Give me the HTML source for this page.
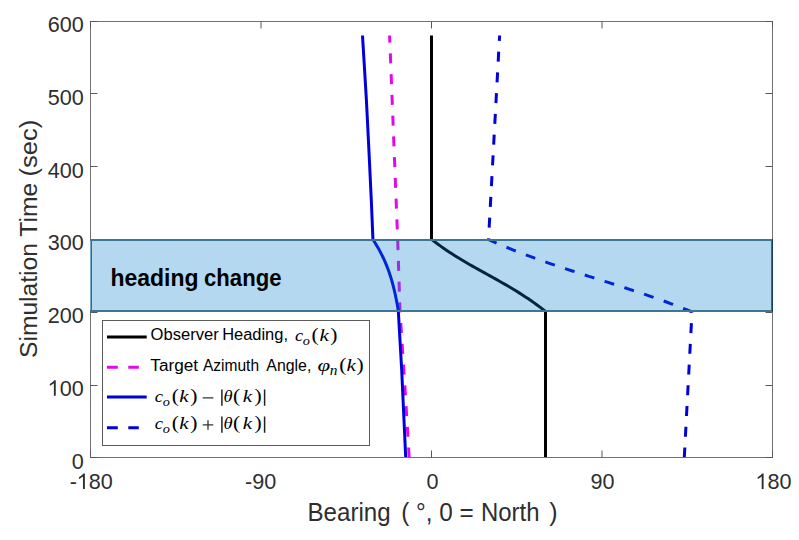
<!DOCTYPE html>
<html><head><meta charset="utf-8"><style>
html,body{margin:0;padding:0;background:#fff;overflow:hidden}
svg{display:block}

</style></head><body>
<svg width="799" height="540" viewBox="0 0 799 540">
<rect x="0" y="0" width="799" height="540" fill="#fff"/>
<path d="M545.50,457.50L545.50,311.43L542.58,309.13L539.65,306.90L536.73,304.73L533.81,302.62L530.88,300.57L527.96,298.57L525.04,296.63L522.12,294.73L519.19,292.88L516.27,291.06L513.35,289.28L510.42,287.54L507.50,285.82L504.58,284.13L501.65,282.45L498.73,280.80L495.81,279.16L492.88,277.53L489.96,275.91L487.04,274.29L484.12,272.67L481.19,271.05L478.27,269.42L475.35,267.78L472.42,266.12L469.50,264.45L466.58,262.75L463.65,261.03L460.73,259.28L457.81,257.49L454.88,255.67L451.96,253.81L449.04,251.90L446.12,249.95L443.19,247.94L440.27,245.88L437.35,243.76L434.42,241.58L431.50,239.34L431.50,35.50" fill="none" stroke="#000" stroke-width="3" stroke-linejoin="round"/>
<path d="M409.2,457.5L404.5,380L400,311L397.7,240L389.6,35.5" fill="none" stroke="rgb(228,8,232)" stroke-width="3" stroke-dasharray="10 10.77"/>
<path d="M405.70,457.50L401.70,370.00L399.40,330.00L398.33,311.00L397.92,308.53L397.50,306.07L397.06,303.60L396.60,301.14L396.12,298.67L395.62,296.21L395.09,293.74L394.53,291.28L393.95,288.81L393.33,286.34L392.68,283.88L391.99,281.41L391.27,278.95L390.51,276.48L389.70,274.02L388.85,271.55L387.96,269.09L387.02,266.62L386.03,264.16L384.99,261.69L383.89,259.22L382.74,256.76L381.53,254.29L380.26,251.83L378.93,249.36L377.53,246.90L376.07,244.43L374.54,241.97L372.94,239.50L371.30,200.00L369.10,154.00L366.40,100.00L362.50,35.50" fill="none" stroke="rgb(0,0,218)" stroke-width="3" stroke-linejoin="round"/>
<path d="M684.30,457.50L692.00,311.88L687.85,310.20L683.69,308.55L679.54,306.93L675.39,305.34L671.23,303.78L667.08,302.24L662.93,300.73L658.78,299.25L654.62,297.78L650.47,296.34L646.32,294.91L642.16,293.51L638.01,292.11L633.86,290.74L629.70,289.37L625.55,288.02L621.40,286.67L617.24,285.34L613.09,284.01L608.94,282.68L604.79,281.36L600.63,280.04L596.48,278.72L592.33,277.40L588.17,276.08L584.02,274.75L579.87,273.42L575.71,272.08L571.56,270.73L567.41,269.37L563.26,268.00L559.10,266.62L554.95,265.22L550.80,263.80L546.64,262.37L542.49,260.91L538.34,259.44L534.18,257.94L530.03,256.41L525.88,254.87L521.72,253.29L517.57,251.69L513.42,250.05L509.27,248.38L505.11,246.68L500.96,244.95L496.81,243.17L492.65,241.36L488.50,239.51L499.60,35.50" fill="none" stroke="rgb(0,0,218)" stroke-width="3" stroke-dasharray="10 10.77"/>
<rect x="90.5" y="21.5" width="682.0" height="436.0" fill="none" stroke="#707070" stroke-width="1"/>
<path d="M90.50,21.5v7M90.50,457.5v-7M261.00,21.5v7M431.50,21.5v7M431.50,457.5v-7M602.00,21.5v7M602.00,457.5v-7M772.50,21.5v7M772.50,457.5v-7M90.5,21.5h7M772.5,21.5h-7M90.5,93.5h7M772.5,93.5h-7M90.5,166.5h7M772.5,166.5h-7M90.5,239.5h7M772.5,239.5h-7M90.5,312.5h7M772.5,312.5h-7M90.5,385.5h7M772.5,385.5h-7M90.5,457.5h7M772.5,457.5h-7" stroke="#585858" stroke-width="1" fill="none"/>
<rect x="90" y="239" width="683" height="73" fill="rgb(2,125,205)" fill-opacity="0.3"/>
<path d="M90,240H773M90,311H773" stroke="rgb(60,117,150)" stroke-width="2" fill="none"/>
<path d="M91.5,241V310" stroke="rgb(45,110,150)" stroke-width="1" fill="none"/>
<path d="M90.5,241V310" stroke="rgb(120,168,200)" stroke-width="1" fill="none"/>
<path d="M771.5,241V310" stroke="rgb(50,110,145)" stroke-width="1" fill="none"/>
<path d="M772.5,239V312" stroke="rgb(25,62,88)" stroke-width="1" fill="none"/>
<text transform="translate(69.63,489.00) scale(0.96,1)" font-family="Liberation Sans" font-size="22.5" fill="#2e2e2e">-</text><path transform="translate(76.82,489.00) scale(0.010547,-0.010986)" d="M763,0L583,0L583,1147C530,1096 460,1045 375,995C290,945 225,913 200,900L200,1074C330,1135 420,1200 500,1270C570,1335 610,1380 630,1409L763,1409Z" fill="#2e2e2e"/><text transform="translate(88.83,489.00) scale(0.96,1)" font-family="Liberation Sans" font-size="22.5" fill="#2e2e2e">8</text><text transform="translate(100.84,489.00) scale(0.96,1)" font-family="Liberation Sans" font-size="22.5" fill="#2e2e2e">0</text>
<text transform="translate(245.08,489.00) scale(0.96,1)" font-family="Liberation Sans" font-size="22.5" fill="#2e2e2e">-</text><text transform="translate(252.28,489.00) scale(0.96,1)" font-family="Liberation Sans" font-size="22.5" fill="#2e2e2e">9</text><text transform="translate(264.29,489.00) scale(0.96,1)" font-family="Liberation Sans" font-size="22.5" fill="#2e2e2e">0</text>
<text transform="translate(426.49,489.00) scale(0.96,1)" font-family="Liberation Sans" font-size="22.5" fill="#2e2e2e">0</text>
<text transform="translate(590.58,489.00) scale(0.96,1)" font-family="Liberation Sans" font-size="22.5" fill="#2e2e2e">9</text><text transform="translate(602.59,489.00) scale(0.96,1)" font-family="Liberation Sans" font-size="22.5" fill="#2e2e2e">0</text>
<path transform="translate(755.55,489.00) scale(0.010547,-0.010986)" d="M763,0L583,0L583,1147C530,1096 460,1045 375,995C290,945 225,913 200,900L200,1074C330,1135 420,1200 500,1270C570,1335 610,1380 630,1409L763,1409Z" fill="#2e2e2e"/><text transform="translate(767.56,489.00) scale(0.96,1)" font-family="Liberation Sans" font-size="22.5" fill="#2e2e2e">8</text><text transform="translate(779.57,489.00) scale(0.96,1)" font-family="Liberation Sans" font-size="22.5" fill="#2e2e2e">0</text>
<text transform="translate(47.71,32.00) scale(0.96,1)" font-family="Liberation Sans" font-size="22.5" fill="#2e2e2e">6</text><text transform="translate(59.72,32.00) scale(0.96,1)" font-family="Liberation Sans" font-size="22.5" fill="#2e2e2e">0</text><text transform="translate(71.73,32.00) scale(0.96,1)" font-family="Liberation Sans" font-size="22.5" fill="#2e2e2e">0</text>
<text transform="translate(47.71,104.75) scale(0.96,1)" font-family="Liberation Sans" font-size="22.5" fill="#2e2e2e">5</text><text transform="translate(59.72,104.75) scale(0.96,1)" font-family="Liberation Sans" font-size="22.5" fill="#2e2e2e">0</text><text transform="translate(71.73,104.75) scale(0.96,1)" font-family="Liberation Sans" font-size="22.5" fill="#2e2e2e">0</text>
<text transform="translate(47.71,177.50) scale(0.96,1)" font-family="Liberation Sans" font-size="22.5" fill="#2e2e2e">4</text><text transform="translate(59.72,177.50) scale(0.96,1)" font-family="Liberation Sans" font-size="22.5" fill="#2e2e2e">0</text><text transform="translate(71.73,177.50) scale(0.96,1)" font-family="Liberation Sans" font-size="22.5" fill="#2e2e2e">0</text>
<text transform="translate(47.71,250.25) scale(0.96,1)" font-family="Liberation Sans" font-size="22.5" fill="#2e2e2e">3</text><text transform="translate(59.72,250.25) scale(0.96,1)" font-family="Liberation Sans" font-size="22.5" fill="#2e2e2e">0</text><text transform="translate(71.73,250.25) scale(0.96,1)" font-family="Liberation Sans" font-size="22.5" fill="#2e2e2e">0</text>
<text transform="translate(47.71,323.00) scale(0.96,1)" font-family="Liberation Sans" font-size="22.5" fill="#2e2e2e">2</text><text transform="translate(59.72,323.00) scale(0.96,1)" font-family="Liberation Sans" font-size="22.5" fill="#2e2e2e">0</text><text transform="translate(71.73,323.00) scale(0.96,1)" font-family="Liberation Sans" font-size="22.5" fill="#2e2e2e">0</text>
<path transform="translate(47.71,395.75) scale(0.010547,-0.010986)" d="M763,0L583,0L583,1147C530,1096 460,1045 375,995C290,945 225,913 200,900L200,1074C330,1135 420,1200 500,1270C570,1335 610,1380 630,1409L763,1409Z" fill="#2e2e2e"/><text transform="translate(59.72,395.75) scale(0.96,1)" font-family="Liberation Sans" font-size="22.5" fill="#2e2e2e">0</text><text transform="translate(71.73,395.75) scale(0.96,1)" font-family="Liberation Sans" font-size="22.5" fill="#2e2e2e">0</text>
<text transform="translate(71.73,468.50) scale(0.96,1)" font-family="Liberation Sans" font-size="22.5" fill="#2e2e2e">0</text>
<text transform="translate(36.9,356.9) rotate(-90)" x="-1.11" y="0" font-family="Liberation Sans" font-style="normal" font-weight="normal" font-size="24.6" fill="#2e2e2e" textLength="175.20" lengthAdjust="spacingAndGlyphs" >Simulation Time</text>
<text transform="translate(36.9,175.0) rotate(-90)" x="-1.59" y="0" font-family="Liberation Sans" font-style="normal" font-weight="normal" font-size="24.6" fill="#2e2e2e" textLength="56.87" lengthAdjust="spacingAndGlyphs" >(sec)</text>
<text x="307.52" y="521.20" font-family="Liberation Sans" font-style="normal" font-weight="normal" font-size="25" fill="#2e2e2e" textLength="83.13" lengthAdjust="spacingAndGlyphs" >Bearing</text>
<text x="401.19" y="521.20" font-family="Liberation Sans" font-style="normal" font-weight="normal" font-size="25" fill="#2e2e2e" textLength="72.50" lengthAdjust="spacingAndGlyphs" >( °, 0 =</text>
<text x="481.04" y="521.20" font-family="Liberation Sans" font-style="normal" font-weight="normal" font-size="25" fill="#2e2e2e" textLength="58.52" lengthAdjust="spacingAndGlyphs" >North</text>
<text x="549.15" y="521.20" font-family="Liberation Sans" font-style="normal" font-weight="normal" font-size="25" fill="#2e2e2e">)</text>
<text x="110.50" y="285.50" font-family="Liberation Sans" font-style="normal" font-weight="bold" font-size="24" fill="#000" textLength="88.04" lengthAdjust="spacingAndGlyphs" >heading</text>
<text x="204.04" y="285.50" font-family="Liberation Sans" font-style="normal" font-weight="bold" font-size="24" fill="#000" textLength="77.42" lengthAdjust="spacingAndGlyphs" >change</text>
<rect x="102.5" y="320.5" width="267" height="125" fill="#fff" stroke="#5c5c5c" stroke-width="1"/>
<path d="M107,337H146.7" stroke="#000" stroke-width="3"/>
<path d="M107,367.3H117.8M128.3,367.3H138.8" stroke="rgb(228,8,232)" stroke-width="3"/>
<path d="M107,397H146.7" stroke="rgb(0,0,218)" stroke-width="3"/>
<path d="M107,427.7H117.8M128.3,427.7H138.8" stroke="rgb(0,0,218)" stroke-width="3"/>
<text x="150.61" y="340.30" font-family="Liberation Sans" font-style="normal" font-weight="normal" font-size="16" fill="#000" textLength="68.16" lengthAdjust="spacingAndGlyphs" >Observer</text>
<text x="222.15" y="340.30" font-family="Liberation Sans" font-style="normal" font-weight="normal" font-size="16" fill="#000" textLength="65.83" lengthAdjust="spacingAndGlyphs" >Heading,</text>
<text x="150.33" y="371.00" font-family="Liberation Sans" font-style="normal" font-weight="normal" font-size="16" fill="#000" textLength="47.79" lengthAdjust="spacingAndGlyphs" >Target</text>
<text x="202.97" y="371.00" font-family="Liberation Sans" font-style="normal" font-weight="normal" font-size="16" fill="#000" textLength="56.04" lengthAdjust="spacingAndGlyphs" >Azimuth</text>
<text x="266.37" y="371.00" font-family="Liberation Sans" font-style="normal" font-weight="normal" font-size="16" fill="#000" textLength="44.96" lengthAdjust="spacingAndGlyphs" >Angle,</text>
<text transform="translate(295.03,341.00) scale(1.05,1)" font-family="Liberation Serif" font-style="italic" font-weight="normal" font-size="17.6" fill="#000">c</text>
<text transform="translate(302.67,344.60) scale(1.1,1)" font-family="Liberation Serif" font-style="italic" font-weight="normal" font-size="13" fill="#000">o</text>
<text transform="translate(311.45,341.00) scale(1.15,1)" font-family="Liberation Serif" font-style="normal" font-weight="normal" font-size="18.75" fill="#000">(</text>
<text transform="translate(319.39,341.00) scale(1.2,1)" font-family="Liberation Serif" font-style="italic" font-weight="normal" font-size="17.6" fill="#000">k</text>
<text transform="translate(330.21,341.00) scale(1.15,1)" font-family="Liberation Serif" font-style="normal" font-weight="normal" font-size="18.75" fill="#000">)</text>
<text transform="translate(317.52,370.50) scale(1.3,1)" font-family="Liberation Serif" font-style="italic" font-weight="normal" font-size="17.6" fill="#000">φ</text>
<text transform="translate(329.75,374.50) scale(1.1,1)" font-family="Liberation Serif" font-style="italic" font-weight="normal" font-size="14" fill="#000">n</text>
<text transform="translate(339.15,370.60) scale(1.15,1)" font-family="Liberation Serif" font-style="normal" font-weight="normal" font-size="18.75" fill="#000">(</text>
<text transform="translate(346.49,370.50) scale(1.2,1)" font-family="Liberation Serif" font-style="italic" font-weight="normal" font-size="17.6" fill="#000">k</text>
<text transform="translate(356.41,370.60) scale(1.15,1)" font-family="Liberation Serif" font-style="normal" font-weight="normal" font-size="18.75" fill="#000">)</text>
<text transform="translate(154.83,402.30) scale(1.05,1)" font-family="Liberation Serif" font-style="italic" font-weight="normal" font-size="17.6" fill="#000">c</text>
<text transform="translate(162.87,406.10) scale(1.1,1)" font-family="Liberation Serif" font-style="italic" font-weight="normal" font-size="13" fill="#000">o</text>
<text transform="translate(171.65,402.30) scale(1.15,1)" font-family="Liberation Serif" font-style="normal" font-weight="normal" font-size="18.75" fill="#000">(</text>
<text transform="translate(179.19,402.30) scale(1.2,1)" font-family="Liberation Serif" font-style="italic" font-weight="normal" font-size="17.6" fill="#000">k</text>
<text transform="translate(190.31,402.30) scale(1.15,1)" font-family="Liberation Serif" font-style="normal" font-weight="normal" font-size="18.75" fill="#000">)</text>
<path d="M221.9,389.50v16.2M264.6,389.50v16.2" stroke="#222" stroke-width="1.5"/>
<text transform="translate(223.40,402.30) scale(1.05,1)" font-family="Liberation Serif" font-style="italic" font-weight="normal" font-size="17.6" fill="#000">θ</text>
<text transform="translate(232.95,402.30) scale(1.15,1)" font-family="Liberation Serif" font-style="normal" font-weight="normal" font-size="18.75" fill="#000">(</text>
<text transform="translate(242.79,402.30) scale(1.2,1)" font-family="Liberation Serif" font-style="italic" font-weight="normal" font-size="17.6" fill="#000">k</text>
<text transform="translate(254.41,402.30) scale(1.15,1)" font-family="Liberation Serif" font-style="normal" font-weight="normal" font-size="18.75" fill="#000">)</text>
<text transform="translate(154.83,429.40) scale(1.05,1)" font-family="Liberation Serif" font-style="italic" font-weight="normal" font-size="17.6" fill="#000">c</text>
<text transform="translate(162.87,433.20) scale(1.1,1)" font-family="Liberation Serif" font-style="italic" font-weight="normal" font-size="13" fill="#000">o</text>
<text transform="translate(171.65,429.40) scale(1.15,1)" font-family="Liberation Serif" font-style="normal" font-weight="normal" font-size="18.75" fill="#000">(</text>
<text transform="translate(179.19,429.40) scale(1.2,1)" font-family="Liberation Serif" font-style="italic" font-weight="normal" font-size="17.6" fill="#000">k</text>
<text transform="translate(190.31,429.40) scale(1.15,1)" font-family="Liberation Serif" font-style="normal" font-weight="normal" font-size="18.75" fill="#000">)</text>
<path d="M221.9,416.60v16.2M264.6,416.60v16.2" stroke="#222" stroke-width="1.5"/>
<text transform="translate(223.40,429.40) scale(1.05,1)" font-family="Liberation Serif" font-style="italic" font-weight="normal" font-size="17.6" fill="#000">θ</text>
<text transform="translate(232.95,429.40) scale(1.15,1)" font-family="Liberation Serif" font-style="normal" font-weight="normal" font-size="18.75" fill="#000">(</text>
<text transform="translate(242.79,429.40) scale(1.2,1)" font-family="Liberation Serif" font-style="italic" font-weight="normal" font-size="17.6" fill="#000">k</text>
<text transform="translate(254.41,429.40) scale(1.15,1)" font-family="Liberation Serif" font-style="normal" font-weight="normal" font-size="18.75" fill="#000">)</text>
<path d="M202.7,397.8H213.4M202.7,424.9H213.3M208,420.2V429.8" stroke="#333" stroke-width="1.3"/>
</svg>
</body></html>
